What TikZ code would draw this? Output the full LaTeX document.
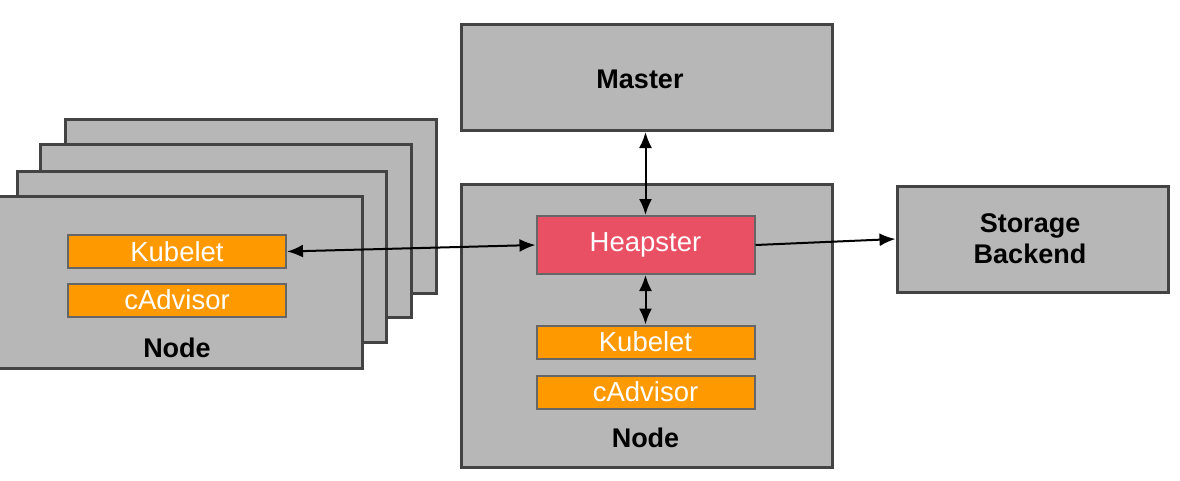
\documentclass[tikz,border=0pt]{standalone}
\usepackage{fontspec}
\setmainfont{Liberation Sans}
\usetikzlibrary{arrows.meta}
\definecolor{boxgray}{HTML}{B7B7B7}
\definecolor{edgegray}{HTML}{434343}
\definecolor{innergray}{HTML}{666666}
\definecolor{orangefill}{HTML}{FF9900}
\definecolor{heapred}{HTML}{EA5064}
\tikzset{
  bigbox/.style={draw=edgegray, fill=boxgray, line width=3pt, rectangle, inner sep=0pt},
  comp/.style={draw=innergray, line width=2pt, rectangle, inner sep=0pt, text=white,
    font=\fontsize{27.5}{30}\selectfont, minimum width=218pt},
  orangebox/.style={comp, fill=orangefill, minimum height=33pt},
  heapbox/.style={comp, fill=heapred, minimum height=58pt},
  title/.style={font=\fontsize{27}{31}\selectfont\bfseries, text=black, align=center},
  link/.style={line width=2pt, draw=black},
  tip/.style={-{Latex[length=16pt,width=13pt]}},
  twotip/.style={{Latex[length=16pt,width=13pt]}-{Latex[length=16pt,width=13pt]}}
}
\begin{document}
\begin{tikzpicture}[x=1pt,y=-1pt]
\useasboundingbox (0,0) rectangle (1180,480);
\fill[white] (0,0) rectangle (1180,480);
\begin{scope}
\clip (0,0) rectangle (1180,480);
% stacked nodes on the left (back to front)
\node[bigbox, minimum width=371pt, minimum height=174pt] (n4) at (250.5,206) {};
\node[bigbox, minimum width=371pt, minimum height=173pt] (n3) at (225.5,230.5) {};
\node[bigbox, minimum width=369pt, minimum height=171pt] (n2) at (201.5,256.5) {};
\node[bigbox, minimum width=372pt, minimum height=172pt] (n1) at (176,282) {};
\end{scope}
\node[orangebox] (lk) at (177,251.5) {Kubelet};
\node[orangebox] (lc) at (177,300) {cAdvisor};
\node[title] (lnode) at (177,348) {Node};

% master
\node[bigbox, minimum width=371pt, minimum height=106pt] (ms) at (646.5,77.5) {};
\node[title] (mslabel) at (640,79) {Master};

% central node
\node[bigbox, minimum width=371pt, minimum height=283pt] (cn) at (646.5,325.5) {};
\node[heapbox] (hp) at (645.5,245) {Heapster};
\node[orangebox] (ck) at (645.5,342) {Kubelet};
\node[orangebox] (cc) at (645.5,392) {cAdvisor};
\node[title] (cnode) at (645.5,438) {Node};

% storage backend
\node[bigbox, minimum width=271pt, minimum height=106pt] (st) at (1032.5,239) {};
\node[title] (stlabel) at (1030,239) {Storage\\Backend};

% connectors
\draw[link, twotip] (lk.east) -- (hp.west);
\draw[link, tip] (hp.east) -- (st.west);
\draw[link, twotip] (ms.south -| hp.north) -- (hp.north);
\draw[link, twotip] (hp.south) -- (ck.north);
\end{tikzpicture}
\end{document}
